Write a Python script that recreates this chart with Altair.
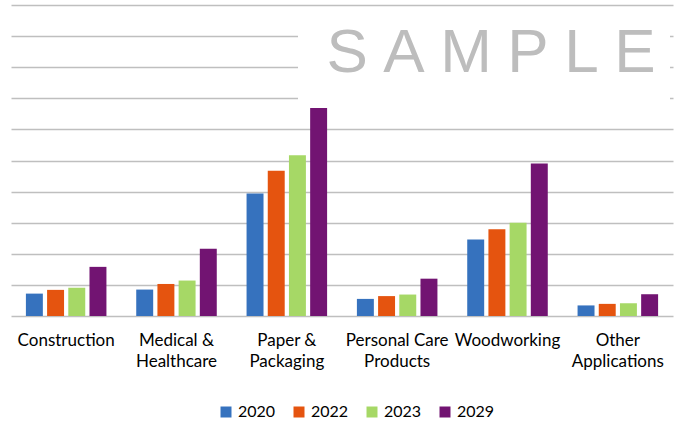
import altair as alt
import pandas as pd

categories = ["Construction", "Medical & Healthcare", "Paper & Packaging",
              "Personal Care Products", "Woodworking", "Other Applications"]
label_lines = [["Construction"], ["Medical &", "Healthcare"], ["Paper &", "Packaging"],
               ["Personal Care", "Products"], ["Woodworking"], ["Other", "Applications"]]
years = ["2020", "2022", "2023", "2029"]
v2020 = [0.72, 0.85, 3.94, 0.55, 2.46, 0.34]
v2022 = [0.84, 1.03, 4.67, 0.64, 2.79, 0.39]
v2023 = [0.91, 1.14, 5.17, 0.69, 3.00, 0.41]
v2029 = [1.58, 2.16, 6.69, 1.20, 4.90, 0.70]
colors = ["#3672BE", "#E5540F", "#A6D866", "#721472"]

series = [v2020, v2022, v2023, v2029]
rows = []
for yr, vals in zip(years, series):
    for c, v in zip(categories, vals):
        rows.append({"category": c, "year": yr, "value": v})
df = pd.DataFrame(rows)

# build label expression for wrapped labels
expr = "datum.label"
for c, lines in reversed(list(zip(categories, label_lines))):
    arr = "[" + ",".join("'" + l + "'" for l in lines) + "]"
    expr = f"datum.label == '{c}' ? {arr} : ({expr})"

bars = alt.Chart(df).mark_bar().encode(
    x=alt.X("category:N", sort=categories, title=None,
            scale=alt.Scale(paddingInner=0.27, paddingOuter=0.135),
            axis=alt.Axis(labelAngle=0, labelFont="Lato", labelFontSize=17,
                          labelColor="#000000", labelPadding=16, labelLineHeight=21.6,
                          ticks=False, domain=False, labelLimit=300, labelExpr=expr)),
    xOffset=alt.XOffset("year:N", sort=years,
                        scale=alt.Scale(paddingInner=0.2, paddingOuter=0)),
    y=alt.Y("value:Q", title=None,
            scale=alt.Scale(domain=[0, 10], nice=False),
            axis=alt.Axis(labels=False, ticks=False, domain=False, grid=True,
                          values=list(range(0, 11)), gridColor="#BFBFBF", gridWidth=1.3)),
    color=alt.Color("year:N", sort=years, title=None,
                    scale=alt.Scale(domain=years, range=colors),
                    legend=alt.Legend(orient="none", direction="horizontal",
                                      legendX=207, legendY=399,
                                      symbolType="square", symbolSize=121,
                                      symbolStrokeWidth=0, labelFont="Lato",
                                      labelFontSize=16, labelColor="#000000",
                                      labelOffset=4, columnPadding=15)),
)

wm = pd.DataFrame({"t": ["S\u2005A\u2005M\u2005P\u2005L\u2005E"]})
box = alt.Chart(wm).mark_rect(color="white").encode(
    x=alt.value(287), x2=alt.value(659), y=alt.value(13), y2=alt.value(99)
)
text = alt.Chart(wm).mark_text(font="Liberation Sans", fontSize=62, color="#BDBDBD",
                               align="center", baseline="alphabetic").encode(
    x=alt.value(480), y=alt.value(67), text="t:N"
)

chart = alt.layer(bars, box, text).properties(
    width=662, height=311,
    padding={"left": 11, "top": 5, "right": 5, "bottom": 0},
    background="white",
).configure_view(stroke=None)

chart.save("out.html", embed_options={"renderer": "svg", "actions": False})
